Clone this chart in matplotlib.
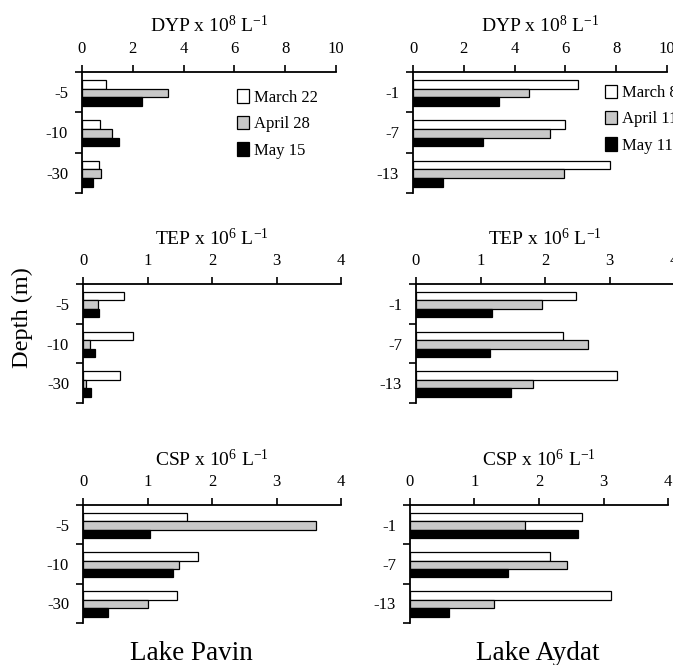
import matplotlib
matplotlib.use("Agg")
import matplotlib.pyplot as plt
import numpy as np

plt.rcParams["font.family"] = ["Liberation Serif", "DejaVu Serif"]
plt.rcParams["mathtext.fontset"] = "custom"
plt.rcParams["mathtext.rm"] = "Liberation Serif"
plt.rcParams["mathtext.it"] = "Liberation Serif:italic"

# depths (m) for each lake
pavin_depths = ["-5", "-10", "-30"]
aydat_depths = ["-1", "-7", "-13"]

pavin_dates = ["March 22", "April 28", "May 15"]
aydat_dates = ["March 8", "April 11", "May 11"]

# values per depth, one list per date
pavin_dyp = {"March 22": [0.94, 0.71, 0.68], "April 28": [3.40, 1.17, 0.75], "May 15": [2.36, 1.47, 0.43]}
aydat_dyp = {"March 8": [6.50, 6.00, 7.74], "April 11": [4.58, 5.41, 5.95], "May 11": [3.38, 2.76, 1.18]}

pavin_tep = {"March 22": [0.63, 0.77, 0.58], "April 28": [0.23, 0.11, 0.04], "May 15": [0.25, 0.18, 0.12]}
aydat_tep = {"March 8": [2.48, 2.28, 3.11], "April 11": [1.95, 2.66, 1.82], "May 11": [1.18, 1.15, 1.48]}

pavin_csp = {"March 22": [1.62, 1.79, 1.46], "April 28": [3.62, 1.49, 1.01], "May 15": [1.04, 1.39, 0.39]}
aydat_csp = {"March 8": [2.67, 2.17, 3.12], "April 11": [1.79, 2.43, 1.31], "May 11": [2.60, 1.52, 0.61]}

titles = [r"DYP x 10$^{8}$ L$^{-1}$", r"TEP x 10$^{6}$ L$^{-1}$", r"CSP x 10$^{6}$ L$^{-1}$"]
xmax = [10, 4, 4]
xstep = [2, 1, 1]

colors = ["white", "#c8c8c8", "black"]

W, H = 673, 665
fig = plt.figure(figsize=(W / 100, H / 100), dpi=100)


def px_rect(x0, x1, ytop, ybot):
    return [x0 / W, (H - ybot) / H, (x1 - x0) / W, (ybot - ytop) / H]


rows = [(72, 193), (284, 403), (505, 623)]
lcols = [(82, 336), (83, 341), (83, 341)]
rcols = [(413, 667), (416, 674), (410, 668)]


def panel(ax, data, dates, depths, title, xm, xs, legend_pos=None):
    centers = np.arange(len(depths)) + 0.52
    h = 0.215
    for i, d in enumerate(dates):
        ax.barh(centers + (i - 1) * h, data[d], height=h, color=colors[i],
                edgecolor="black", linewidth=0.9, label=d)
    ax.set_ylim(3, 0)
    ax.set_xlim(0, xm)
    ax.set_yticks([0, 1, 2, 3])
    ax.set_yticklabels([])
    ax.set_yticks(np.arange(len(depths)) + 0.5, minor=True)
    ax.set_yticklabels(depths, minor=True)
    ax.tick_params(axis="y", which="major", length=5, width=1.2, direction="out")
    ax.tick_params(axis="y", which="minor", length=0, pad=10, labelsize=12)
    ax.set_xticks(np.arange(0, xm + 0.01, xs))
    ax.xaxis.tick_top()
    ax.tick_params(axis="x", length=5, width=1.2, direction="out", pad=5.5, labelsize=12)
    ax.spines["right"].set_visible(False)
    ax.spines["bottom"].set_visible(False)
    ax.spines["top"].set_linewidth(1.3)
    ax.spines["left"].set_linewidth(1.3)
    ax.text(0.5, 1 + 40 / 121, title, transform=ax.transAxes, ha="center",
            va="baseline", fontsize=14)
    if legend_pos is not None:
        ax.legend(loc="center left", bbox_to_anchor=legend_pos, frameon=False,
                  fontsize=12, handlelength=0.75, handleheight=0.85,
                  handletextpad=0.3, labelspacing=0.6, borderaxespad=0,
                  borderpad=0)


pavin = [pavin_dyp, pavin_tep, pavin_csp]
aydat = [aydat_dyp, aydat_tep, aydat_csp]

for r in range(3):
    axl = fig.add_axes(px_rect(*lcols[r], *rows[r]))
    panel(axl, pavin[r], pavin_dates, pavin_depths, titles[r], xmax[r], xstep[r],
          legend_pos=(0.61, 0.57) if r == 0 else None)
    axr = fig.add_axes(px_rect(*rcols[r], *rows[r]))
    panel(axr, aydat[r], aydat_dates, aydat_depths, titles[r], xmax[r], xstep[r],
          legend_pos=(0.755, 0.61) if r == 0 else None)

fig.text(22 / W, 1 - 318 / H, "Depth (m)", rotation=90, ha="center", va="center", fontsize=17.5)
fig.text(191 / W, 1 - 660 / H, "Lake Pavin", ha="center", va="baseline", fontsize=19.5)
fig.text(538 / W, 1 - 660 / H, "Lake Aydat", ha="center", va="baseline", fontsize=19.5)

fig.savefig("out.png", dpi=100)
